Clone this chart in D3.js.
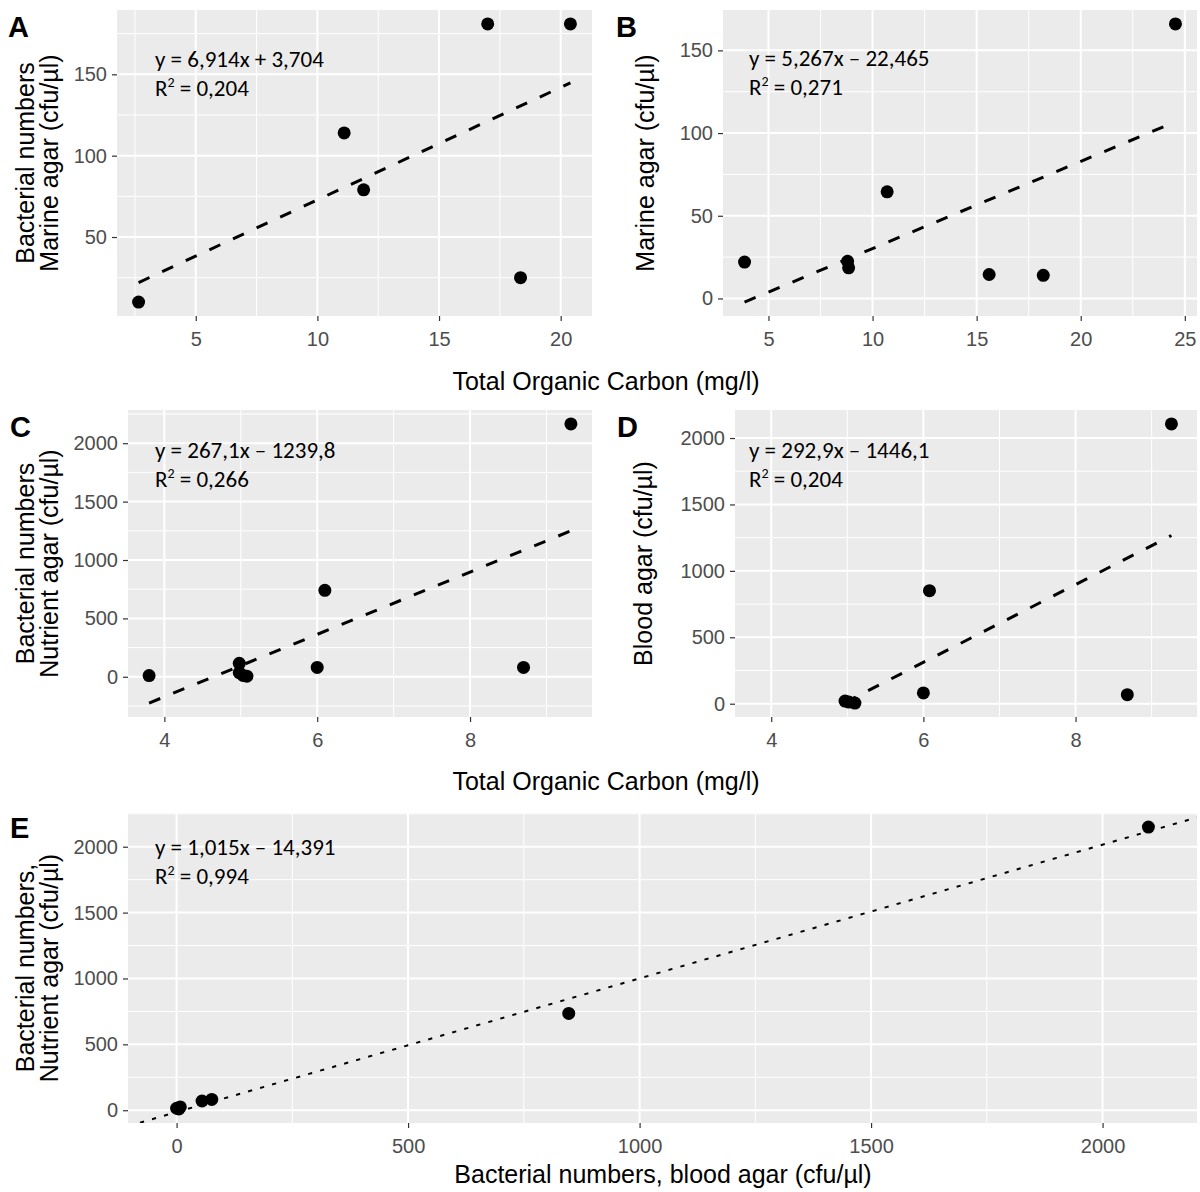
<!DOCTYPE html>
<html>
<head>
<meta charset="utf-8">
<script src="https://cdn.jsdelivr.net/npm/d3@7"></script>
<style>
body { margin: 0; background: #fff; }
</style>
</head>
<body>
<svg id="fig" width="1200" height="1192"></svg>
<script>
/*************************** Data ***************************/
// A: TOC vs marine agar (first set)
var tocA      = [2.65, 11.1, 11.9, 17.0, 18.35, 20.4];
var marineA   = [10, 114, 79, 181, 25, 181];
// B: TOC vs marine agar (second set)
var tocB      = [3.85, 8.8, 8.85, 10.7, 15.6, 18.2, 24.55];
var marineB   = [22, 22.5, 18.5, 64.5, 14.5, 14, 166];
// C: TOC vs nutrient agar
var tocC      = [3.8, 4.98, 4.98, 5.03, 5.08, 6.0, 6.1, 8.7, 9.32];
var nutrientC = [10, 115, 35, 12, 5, 80, 740, 80, 2165];
// D: TOC vs blood agar
var tocD      = [4.97, 5.02, 5.1, 6.0, 6.08, 8.68, 9.26];
var bloodD    = [20, 12, 5, 81, 851, 68, 2106];
// E: blood agar vs nutrient agar
var bloodE    = [0, 8, 5, 55, 76, 847, 2099];
var nutrientE = [15, 25, 10, 70, 82, 735, 2149];

// regression fits, panels A..E
var fitSlope     = [6.914, 5.267, 267.1, 292.9, 1.015];
var fitIntercept = [3.704, -22.465, -1239.8, -1446.1, -14.391];
var eqLabels     = ["y = 6,914x + 3,704", "y = 5,267x \u2013 22,465", "y = 267,1x \u2013 1239,8",
                    "y = 292,9x \u2013 1446,1", "y = 1,015x \u2013 14,391"];
var r2Labels     = ["0,204", "0,271", "0,266", "0,204", "0,994"];

// tick labels
var ticksXA = [5, 10, 15, 20];
var ticksYA = [50, 100, 150];
var ticksXB = [5, 10, 15, 20, 25];
var ticksYB = [0, 50, 100, 150];
var ticksXC = [4, 6, 8];
var ticksYC = [0, 500, 1000, 1500, 2000];
var ticksXE = [0, 500, 1000, 1500, 2000];
var ticksYE = [0, 500, 1000, 1500, 2000];

var tocTitle = "Total Organic Carbon (mg/l)";
var bloodTitle = "Bacterial numbers, blood agar (cfu/\u00b5l)";

/*************************** Helpers ***************************/
var svg = d3.select("#fig");
svg.append("rect").attr("width", 1200).attr("height", 1192).attr("fill", "#fff");

var AXFONT = "'Liberation Sans', Arial, sans-serif";
var EQFONT = "Carlito, Lato, 'Open Sans', sans-serif";

function expand(vals) {
    var ext = d3.extent(vals);
    var pad = (ext[1] - ext[0]) * 0.05;
    return [ext[0] - pad, ext[1] + pad];
}

function minorBreaks(ticks, dom) {
    var step = ticks[1] - ticks[0];
    var out = [];
    for (var v = ticks[0] - step / 2; v <= ticks[ticks.length - 1] + step / 2 + 1e-9; v += step) {
        if (v > dom[0] && v < dom[1]) out.push(v);
    }
    return out;
}

function drawPanel(p) {
    var g = svg.append("g").attr("transform", "translate(" + p.left + "," + p.top + ")");
    var x = d3.scaleLinear().domain(p.xdom).range([0, p.w]);
    var y = d3.scaleLinear().domain(p.ydom).range([p.h, 0]);

    var clipId = "clip" + p.letter;
    g.append("clipPath").attr("id", clipId)
        .append("rect").attr("width", p.w).attr("height", p.h);

    g.append("rect").attr("width", p.w).attr("height", p.h).attr("fill", "#EBEBEB");

    // grid: minor then major
    g.selectAll(".vminor").data(minorBreaks(p.xticks, p.xdom)).enter().append("line")
        .attr("x1", function(d){ return x(d); }).attr("x2", function(d){ return x(d); })
        .attr("y1", 0).attr("y2", p.h).attr("stroke", "#fff").attr("stroke-width", 1);
    g.selectAll(".hminor").data(minorBreaks(p.yticks, p.ydom)).enter().append("line")
        .attr("y1", function(d){ return y(d); }).attr("y2", function(d){ return y(d); })
        .attr("x1", 0).attr("x2", p.w).attr("stroke", "#fff").attr("stroke-width", 1);
    g.selectAll(".vmajor").data(p.xticks).enter().append("line")
        .attr("x1", function(d){ return x(d); }).attr("x2", function(d){ return x(d); })
        .attr("y1", 0).attr("y2", p.h).attr("stroke", "#fff").attr("stroke-width", 2);
    g.selectAll(".hmajor").data(p.yticks).enter().append("line")
        .attr("y1", function(d){ return y(d); }).attr("y2", function(d){ return y(d); })
        .attr("x1", 0).attr("x2", p.w).attr("stroke", "#fff").attr("stroke-width", 2);

    // axes
    var xa = g.append("g").attr("transform", "translate(0," + p.h + ")")
        .call(d3.axisBottom(x).tickValues(p.xticks).tickSize(5).tickPadding(11).tickFormat(d3.format("d")));
    var ya = g.append("g")
        .call(d3.axisLeft(y).tickValues(p.yticks).tickSize(5).tickPadding(5).tickFormat(d3.format("d")));
    [xa, ya].forEach(function(a) {
        a.select(".domain").remove();
        a.selectAll(".tick line").attr("stroke", "#333").attr("stroke-width", 1.2);
        a.selectAll(".tick text").attr("fill", "#4D4D4D")
            .style("font-family", AXFONT).style("font-size", "20px");
    });

    // fit line
    var lx = p.lineX;
    var lineData = lx.map(function(v){ return [v, p.slope * v + p.intercept]; });
    g.append("path").datum(lineData)
        .attr("clip-path", "url(#" + clipId + ")")
        .attr("d", d3.line().x(function(d){ return x(d[0]); }).y(function(d){ return y(d[1]); }))
        .attr("fill", "none").attr("stroke", "#000")
        .attr("stroke-width", p.thin ? 2 : 3)
        .attr("stroke-dasharray", p.thin ? "4.2,8.3" : "12,14");

    // points
    g.selectAll(".pt").data(d3.zip(p.xs, p.ys)).enter().append("circle")
        .attr("cx", function(d){ return x(d[0]); })
        .attr("cy", function(d){ return y(d[1]); })
        .attr("r", 6.5).attr("fill", "#000");

    // equation
    var eq = g.append("g").style("font-family", EQFONT).style("font-size", "23px").attr("fill", "#000");
    eq.append("text").attr("x", p.eqDx).attr("y", p.eqDy).text(p.eq);
    var r2 = eq.append("text").attr("x", p.eqDx).attr("y", p.eqDy + 29);
    r2.append("tspan").text("R");
    r2.append("tspan").attr("dy", -9).style("font-size", "14px").text("2");
    r2.append("tspan").attr("dy", 9).text(" = " + p.r2);

    // panel letter
    svg.append("text").attr("x", p.letterX).attr("y", p.letterY)
        .style("font-family", AXFONT).style("font-size", "29px").style("font-weight", "bold")
        .text(p.letter);

    // y title lines
    p.ytitle.forEach(function(t, i) {
        svg.append("text")
            .attr("transform", "translate(" + p.ytitleX[i] + "," + (p.top + p.h / 2) + ") rotate(-90)")
            .attr("text-anchor", "middle")
            .style("font-family", AXFONT).style("font-size", "25px").attr("fill", "#000")
            .text(t);
    });
}

/*************************** Panels ***************************/
var domXC = expand(tocC);

drawPanel({
    letter: "A", letterX: 8, letterY: 37,
    left: 117, top: 10, w: 475, h: 306,
    xs: tocA, ys: marineA, xticks: ticksXA, yticks: ticksYA,
    xdom: expand(tocA),
    ydom: expand(marineA.concat(d3.extent(tocA).map(function(v){ return fitSlope[0] * v + fitIntercept[0]; }))),
    lineX: d3.extent(tocA), slope: fitSlope[0], intercept: fitIntercept[0],
    eq: eqLabels[0], r2: r2Labels[0], eqDx: 38, eqDy: 57,
    ytitle: ["Bacterial numbers", "Marine agar (cfu/\u00b5l)"], ytitleX: [34, 58]
});

drawPanel({
    letter: "B", letterX: 616, letterY: 37,
    left: 723, top: 10, w: 474, h: 306,
    xs: tocB, ys: marineB, xticks: ticksXB, yticks: ticksYB,
    xdom: expand(tocB),
    ydom: expand(marineB.concat(d3.extent(tocB).map(function(v){ return fitSlope[1] * v + fitIntercept[1]; }))),
    lineX: d3.extent(tocB), slope: fitSlope[1], intercept: fitIntercept[1],
    eq: eqLabels[1], r2: r2Labels[1], eqDx: 26, eqDy: 56,
    ytitle: ["Marine agar (cfu/\u00b5l)"], ytitleX: [654]
});

drawPanel({
    letter: "C", letterX: 10, letterY: 437,
    left: 128, top: 410, w: 464, h: 307,
    xs: tocC, ys: nutrientC, xticks: ticksXC, yticks: ticksYC,
    xdom: domXC,
    ydom: expand(nutrientC.concat(d3.extent(tocC).map(function(v){ return fitSlope[2] * v + fitIntercept[2]; }))),
    lineX: d3.extent(tocC), slope: fitSlope[2], intercept: fitIntercept[2],
    eq: eqLabels[2], r2: r2Labels[2], eqDx: 27, eqDy: 48,
    ytitle: ["Bacterial numbers", "Nutrient agar (cfu/\u00b5l)"], ytitleX: [34, 58]
});

drawPanel({
    letter: "D", letterX: 617, letterY: 437,
    left: 735, top: 410, w: 462, h: 307,
    xs: tocD, ys: bloodD, xticks: ticksXC, yticks: ticksYC,
    xdom: domXC,
    ydom: expand(bloodD.concat(d3.extent(tocD).map(function(v){ return fitSlope[3] * v + fitIntercept[3]; }))),
    lineX: d3.extent(tocD), slope: fitSlope[3], intercept: fitIntercept[3],
    eq: eqLabels[3], r2: r2Labels[3], eqDx: 14, eqDy: 48,
    ytitle: ["Blood agar (cfu/\u00b5l)"], ytitleX: [652]
});

var domXE = expand(bloodE);
drawPanel({
    letter: "E", letterX: 10, letterY: 838,
    left: 128, top: 813, w: 1069, h: 310,
    xs: bloodE, ys: nutrientE, xticks: ticksXE, yticks: ticksYE,
    xdom: domXE, ydom: expand(nutrientE),
    lineX: domXE, slope: fitSlope[4], intercept: fitIntercept[4], thin: true,
    eq: eqLabels[4], r2: r2Labels[4], eqDx: 27, eqDy: 42,
    ytitle: ["Bacterial numbers,", "Nutrient agar (cfu/\u00b5l)"], ytitleX: [34, 58]
});

// shared x titles
var xTitles = [[606, 390, tocTitle], [606, 790, tocTitle], [663, 1183, bloodTitle]];
xTitles.forEach(function(t) {
    svg.append("text").attr("x", t[0]).attr("y", t[1]).attr("text-anchor", "middle")
        .style("font-family", AXFONT).style("font-size", "25px").attr("fill", "#000")
        .text(t[2]);
});
</script>
</body>
</html>
